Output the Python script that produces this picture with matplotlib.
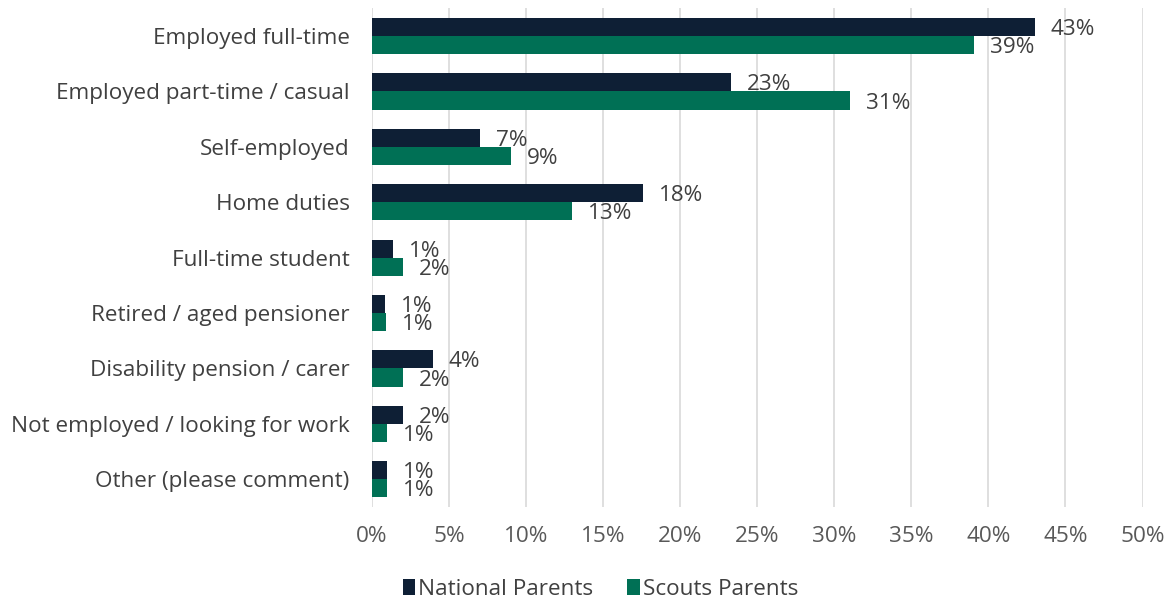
import matplotlib
matplotlib.use("Agg")
import matplotlib.pyplot as plt
import numpy as np

categories = ["Employed full-time", "Employed part-time / casual", "Self-employed",
              "Home duties", "Full-time student", "Retired / aged pensioner",
              "Disability pension / carer", "Not employed / looking for work",
              "Other (please comment)"]
national = [43.0, 23.3, 7.0, 17.6, 1.35, 0.85, 3.95, 2.0, 1.0]
scouts = [39.1, 31.0, 9.0, 13.0, 2.0, 0.95, 2.0, 1.0, 1.0]
national_labels = ["43%", "23%", "7%", "18%", "1%", "1%", "4%", "2%", "1%"]
scouts_labels = ["39%", "31%", "9%", "13%", "2%", "1%", "2%", "1%", "1%"]
xticks = [0, 5, 10, 15, 20, 25, 30, 35, 40, 45, 50]
xtick_labels = [f"{v}%" for v in xticks]

NAVY = "#0E1F35"
GREEN = "#007055"
TXT = "#404040"
FS = 16.2

plt.rcParams['font.family'] = ['Open Sans', 'DejaVu Sans']

fig = plt.figure(figsize=(11.73, 6.0), dpi=100)
ax = fig.add_axes([0.317, 0.155, 0.974 - 0.317, 0.986 - 0.155])

y = np.arange(len(categories))
h = 0.325
b1 = ax.barh(y - h / 2, national, height=h, color=NAVY, label="National Parents", zorder=3)
b2 = ax.barh(y + h / 2, scouts, height=h, color=GREEN, label="Scouts Parents", zorder=3)

for bars, labs in ((b1, national_labels), (b2, scouts_labels)):
    for rect, lab in zip(bars, labs):
        ax.annotate(lab, (rect.get_width(), rect.get_y() + rect.get_height() / 2),
                    xytext=(11.5, 0), textcoords="offset points", va="center_baseline",
                    ha="left", fontsize=FS, color=TXT)

ax.set_xlim(0, 50)
ax.set_ylim(len(categories) - 0.5, -0.5)
ax.set_yticks(y)
ax.set_yticklabels(categories, fontsize=FS, color=TXT)
ax.set_xticks(xticks)
ax.set_xticklabels(xtick_labels, fontsize=FS, color="#595959")
ax.tick_params(axis="both", length=0)
ax.tick_params(axis="y", pad=16)
ax.tick_params(axis="x", pad=14)
ax.grid(axis="x", color="#D9D9D9", linewidth=1.2, zorder=0)
for s in ax.spines.values():
    s.set_visible(False)

leg = fig.legend(handles=[b1, b2], loc="center", bbox_to_anchor=(0.512, 0.018),
                 ncol=2, frameon=False, fontsize=FS, handlelength=0.55, handleheight=0.7,
                 handletextpad=0.15, columnspacing=1.5)
for t in leg.get_texts():
    t.set_color(TXT)

fig.savefig("out.png", dpi=100)
